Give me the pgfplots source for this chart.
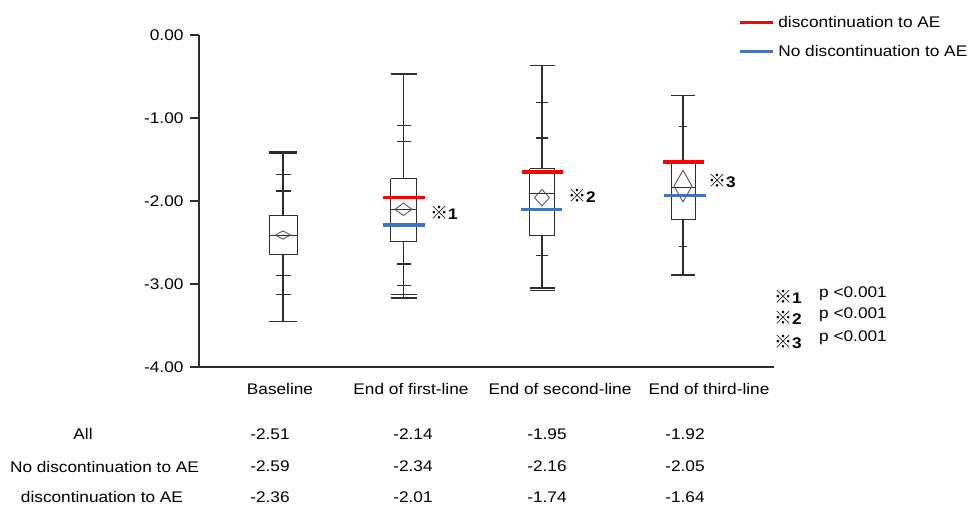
\documentclass[border=0pt]{standalone}
\usepackage{fontspec}
\setmainfont{Liberation Sans}[FakeStretch=1.12]
\newfontfamily\cjk{Noto Sans CJK JP}
\usepackage{pgfplots}
\pgfplotsset{compat=1.18}
\definecolor{myred}{RGB}{255,0,0}
\definecolor{myblue}{RGB}{68,114,196}
\definecolor{ink}{RGB}{45,45,45}
\newcommand\fs{\fontsize{15.4}{18}\selectfont}
\newcommand\refmark[1]{{\cjk\fontsize{18}{20}\selectfont ※}\textbf{#1}}
\begin{document}
\begin{tikzpicture}[every node/.style={font=\fs, text=black}]
\path[use as bounding box] (0,0) rectangle (972pt,508pt);
\begin{axis}[
  at={(199pt,141pt)}, anchor=south west, scale only axis,
  width=575pt, height=332pt,
  xmin=0, xmax=575, ymin=-4, ymax=0,
  axis x line*=bottom, axis y line*=left,
  axis line style={ink, line width=1.3pt},
  xtick=\empty,
  ytick={-4,-3,-2,-1,0},
  yticklabels={-4.00,-3.00,-2.00,-1.00,0.00},
  tick align=outside, major tick length=9pt,
  tick style={ink, line width=1.2pt},
  yticklabel style={font=\fs, xshift=-3pt},
  unbounded coords=jump, clip=false,
  wk/.style={ink, line width=1.3pt, forget plot},
  bx/.style={ink, line width=1pt, forget plot},
  dm/.style={ink!80, line width=0.9pt, forget plot},
  legend style={at={(axis cs:539,-0.025)}, anchor=west, draw=none, fill=none,
    font=\fs, inner sep=0pt, row sep=12pt, column sep=2pt},
  legend cell align=left,
  legend image code/.code={\draw[#1] (0pt,0pt)--(33pt,0pt);},
]
% ---- Baseline (x=84)
\addplot[wk] coordinates {(84,-1.41) (84,-2.17) (nan,nan) (84,-2.64) (84,-3.45)};
\addplot[wk] coordinates {(70,-1.41) (98,-1.41) (nan,nan) (70,-1.43) (98,-1.43) (nan,nan) (70,-3.45) (98,-3.45)};
\addplot[wk] coordinates {(76.5,-1.68) (91.5,-1.68) (nan,nan) (76.5,-1.88) (91.5,-1.88) (nan,nan) (76.5,-2.90) (91.5,-2.90) (nan,nan) (76.5,-3.13) (91.5,-3.13)};
\addplot[bx] coordinates {(70,-2.17) (98,-2.17) (98,-2.64) (70,-2.64) (70,-2.17)};
\addplot[bx] coordinates {(70,-2.41) (98,-2.41)};
\addplot[dm] coordinates {(76.5,-2.41) (84,-2.36) (91.5,-2.41) (84,-2.46) (76.5,-2.41)};
% ---- End of first-line (x=204.5)
\addplot[wk] coordinates {(204.5,-0.47) (204.5,-1.73) (nan,nan) (204.5,-2.49) (204.5,-3.16)};
\addplot[wk] coordinates {(191.5,-0.47) (217.5,-0.47) (nan,nan) (191.5,-3.13) (217.5,-3.13) (nan,nan) (191.5,-3.17) (217.5,-3.17)};
\addplot[wk] coordinates {(197.5,-1.09) (211.5,-1.09) (nan,nan) (197.5,-1.28) (211.5,-1.28) (nan,nan) (197.5,-2.76) (211.5,-2.76) (nan,nan) (197.5,-3.02) (211.5,-3.02)};
\addplot[bx] coordinates {(191.7,-1.73) (217.3,-1.73) (217.3,-2.49) (191.7,-2.49) (191.7,-1.73)};
\addplot[bx] coordinates {(191.7,-2.10) (217.3,-2.10)};
\addplot[dm] coordinates {(196,-2.10) (204.5,-2.025) (213,-2.10) (204.5,-2.175) (196,-2.10)};
% ---- End of second-line (x=343)
\addplot[wk] coordinates {(343,-0.37) (343,-1.61) (nan,nan) (343,-2.41) (343,-3.06)};
\addplot[wk] coordinates {(330.5,-0.37) (355.5,-0.37) (nan,nan) (330.5,-3.05) (355.5,-3.05) (nan,nan) (330.5,-3.08) (355.5,-3.08)};
\addplot[wk] coordinates {(337,-0.81) (349,-0.81) (nan,nan) (337,-1.24) (349,-1.24) (nan,nan) (337,-2.66) (349,-2.66)};
\addplot[bx] coordinates {(330.7,-1.61) (355.3,-1.61) (355.3,-2.41) (330.7,-2.41) (330.7,-1.61)};
\addplot[bx] coordinates {(330.7,-1.91) (355.3,-1.91)};
\addplot[dm] coordinates {(335.5,-1.96) (343,-1.861) (350.5,-1.96) (343,-2.059) (335.5,-1.96)};
% ---- End of third-line (x=484)
\addplot[wk] coordinates {(484,-0.73) (484,-1.51) (nan,nan) (484,-2.22) (484,-2.89)};
\addplot[wk] coordinates {(472,-0.73) (496,-0.73) (nan,nan) (472,-2.89) (496,-2.89)};
\addplot[wk] coordinates {(480,-1.10) (488,-1.10) (nan,nan) (480,-2.55) (488,-2.55)};
\addplot[bx] coordinates {(472,-1.51) (496,-1.51) (496,-2.22) (472,-2.22) (472,-1.51)};
\addplot[bx] coordinates {(472,-1.84) (496,-1.84)};
\addplot[dm] coordinates {(475,-1.82) (484,-1.63) (493,-1.82) (484,-2.01) (475,-1.82)};
% ---- group lines
\addplot[myred, line width=3.2pt] coordinates {(183.5,-1.96) (225.5,-1.96) (nan,nan) (322.7,-1.65) (363.7,-1.65) (nan,nan) (463.7,-1.53) (505.3,-1.53)};
\addlegendentry{discontinuation to AE}
\addplot[myblue, line width=3.2pt] coordinates {(183.5,-2.29) (225.5,-2.29) (nan,nan) (322,-2.10) (363.3,-2.10) (nan,nan) (465,-1.93) (506.7,-1.93)};
\addlegendentry{No discontinuation to AE}
\end{axis}
% significance marks
\node[anchor=west, inner sep=0pt] at (430pt,295pt) {\refmark{1}};
\node[anchor=west, inner sep=0pt] at (568pt,312.3pt) {\refmark{2}};
\node[anchor=west, inner sep=0pt] at (708pt,327pt) {\refmark{3}};
\node[anchor=west, inner sep=0pt] at (774pt,211.3pt) {\refmark{1}};
\node[anchor=west, inner sep=0pt] at (819pt,214.7pt) {p <0.001};
\node[anchor=west, inner sep=0pt] at (774pt,190pt) {\refmark{2}};
\node[anchor=west, inner sep=0pt] at (819pt,193pt) {p <0.001};
\node[anchor=west, inner sep=0pt] at (774pt,166.3pt) {\refmark{3}};
\node[anchor=west, inner sep=0pt] at (819pt,170.7pt) {p <0.001};
% category labels
\node at (280pt,119pt) {Baseline};
\node at (411pt,119pt) {End of first-line};
\node at (560pt,119pt) {End of second-line};
\node at (709pt,119pt) {End of third-line};
% table
\node at (83pt,74pt) {All};
\node at (104.5pt,41.5pt) {No discontinuation to AE};
\node at (102pt,11pt) {discontinuation to AE};
\node at (270pt,74pt) {-2.51};
\node at (413pt,74pt) {-2.14};
\node at (547pt,74pt) {-1.95};
\node at (685pt,74pt) {-1.92};
\node at (270pt,41.5pt) {-2.59};
\node at (413pt,41.5pt) {-2.34};
\node at (547pt,41.5pt) {-2.16};
\node at (685pt,41.5pt) {-2.05};
\node at (270pt,11pt) {-2.36};
\node at (413pt,11pt) {-2.01};
\node at (547pt,11pt) {-1.74};
\node at (685pt,11pt) {-1.64};
\end{tikzpicture}
\end{document}
